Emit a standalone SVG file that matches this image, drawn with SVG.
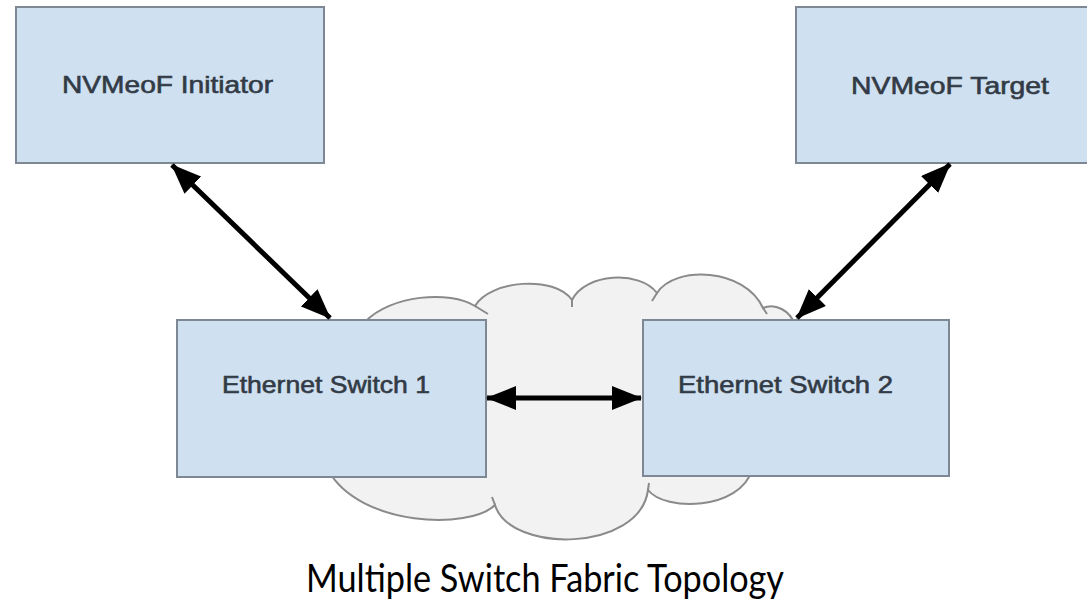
<svg xmlns="http://www.w3.org/2000/svg" width="1087" height="608" viewBox="0 0 1087 608">
  <style>
    .box { fill: #cfe0f1; stroke: #7d8894; stroke-width: 2; }
    .lbl { font-family: "Liberation Sans", Arial, sans-serif; font-size: 24px; fill: #323b45; stroke: #323b45; stroke-width: 0.6; }
    .conn { stroke: #000; stroke-width: 5; fill: none; }
    .cloud { fill: #f2f2f2; stroke: #8a8a8a; stroke-width: 2; }
    .tick { fill: none; stroke: #8a8a8a; stroke-width: 2; }
    .cap { font-family: Lato, "Open Sans", sans-serif; font-size: 38px; fill: #000; }
  </style>
  <defs>
    <marker id="ah" viewBox="0 0 30 24" refX="29" refY="12" markerWidth="30" markerHeight="24" markerUnits="userSpaceOnUse" orient="auto-start-reverse">
      <path d="M0,0 L30,12 L0,24 Z" fill="#000"/>
    </marker>
  </defs>
  <rect width="1087" height="608" fill="#fff"/>

  <g id="cloud">
    <path class="cloud" d="M365,330 L365,322 C390,295 450,290 475,306 C490,280 555,275 572,300 C585,273 640,270 657,293 C675,265 745,268 763,308 C775,303 790,310 795,325 L795,470 L752,470 C740,510 665,512 648,490 C640,552 510,554 495,505 C470,530 360,527 328,470 Z"/>
    <path class="tick" d="M475,306 L488,314 M572,300 L572,307 M657,293 L652,301 M763,308 L767,314 M495,505 L492,497 M648,490 L649,483"/>
  </g>

  <g id="initiator">
    <rect class="box" x="16" y="7" width="308" height="156"/>
    <text class="lbl" x="62" y="93" textLength="211" lengthAdjust="spacingAndGlyphs">NVMeoF Initiator</text>
  </g>
  <g id="target">
    <rect class="box" x="796" y="7" width="300" height="156"/>
    <text class="lbl" x="851" y="94" textLength="198" lengthAdjust="spacingAndGlyphs">NVMeoF Target</text>
  </g>
  <g id="switch1">
    <rect class="box" x="177" y="320" width="309" height="157"/>
    <text class="lbl" x="222" y="393" textLength="208" lengthAdjust="spacingAndGlyphs">Ethernet Switch 1</text>
  </g>
  <g id="switch2">
    <rect class="box" x="643" y="320" width="306" height="156"/>
    <text class="lbl" x="678" y="393" textLength="215" lengthAdjust="spacingAndGlyphs">Ethernet Switch 2</text>
  </g>

  <g id="connectors">
    <line class="conn" x1="172" y1="165" x2="330" y2="318" marker-start="url(#ah)" marker-end="url(#ah)"/>
    <line class="conn" x1="950" y1="164" x2="797" y2="318" marker-start="url(#ah)" marker-end="url(#ah)"/>
    <line class="conn" x1="487" y1="398" x2="641" y2="398" marker-start="url(#ah)" marker-end="url(#ah)"/>
  </g>

  <text id="caption" class="cap" x="306" y="592" textLength="478" lengthAdjust="spacingAndGlyphs">Multiple Switch Fabric Topology</text>
</svg>
